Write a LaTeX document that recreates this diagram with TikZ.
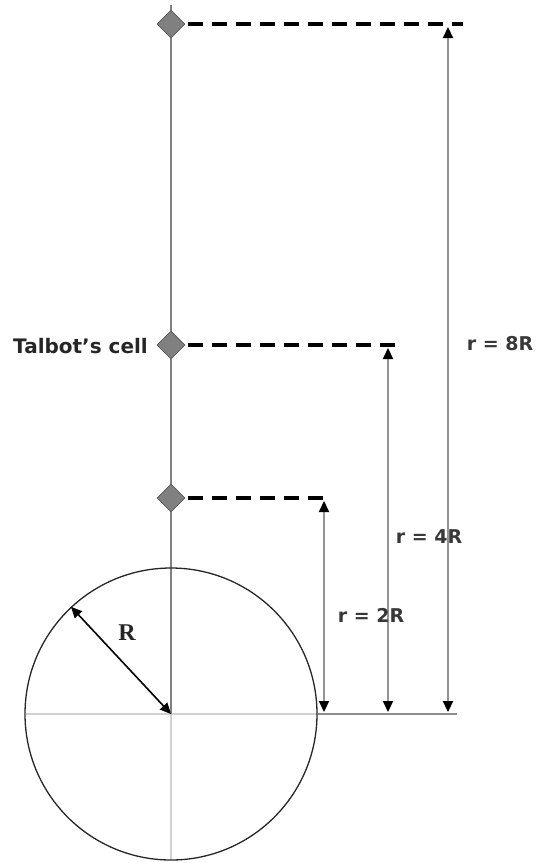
\documentclass[tikz,border=0pt]{standalone}
\usepackage{fontspec}
\setmainfont{DejaVu Sans}
\newfontfamily\serifR{Liberation Serif}
\usetikzlibrary{shapes.geometric,arrows.meta}
\begin{document}
\begin{tikzpicture}[x=1pt,y=-1pt,
  marker/.style={diamond, draw=black!65, fill=black!50, minimum width=28pt, minimum height=28pt, inner sep=0pt, line width=0.8pt},
  guide/.style={draw=black!50, line width=1.8pt},
  dashline/.style={draw=black, line width=3.5pt, dash pattern=on 15pt off 9pt},
  dimarrow/.style={draw=black!42, line width=2.2pt, {Triangle[length=11pt,width=10pt,black]}-{Triangle[length=11pt,width=10pt,black]}},
  lbl/.style={font=\fontsize{19}{23}\selectfont\bfseries, text=black!78, inner sep=0pt},
  faint/.style={draw=black!18, line width=1.2pt},
  base/.style={draw=black!45, line width=2pt}]
\useasboundingbox (0,0) rectangle (538,863);
% centre and guide
\coordinate (O) at (171,714);
\coordinate (top) at (171,5);
\coordinate (cb) at (171,860);
\coordinate (cl) at (26,714);
\coordinate (cr) at (317,714);
\draw[faint] (cl) -- (cr);
\draw[faint] (O) -- (cb);
\draw[guide] (top) -- (O);
\node[circle, draw=black!85, line width=1.3pt, minimum size=292pt, inner sep=0pt] (circ) at (O) {};
% markers
\node[marker] (d1) at (171,24) {};
\node[marker] (d2) at (171,345) {};
\node[marker] (d3) at (171,498) {};
% dashed levels
\coordinate (e1) at (463,24);
\coordinate (e2) at (398,345);
\coordinate (e3) at (328,498);
\draw[dashline] ([xshift=3pt]d1.east) -- (e1);
\draw[dashline] ([xshift=3pt]d2.east) -- (e2);
\draw[dashline] ([xshift=3pt]d3.east) -- (e3);
% base line
\coordinate (b1) at (318,714);
\coordinate (b2) at (457,714);
\draw[base] (b1) -- (b2);
% dimension arrows
\coordinate (a1t) at (448,27);  \coordinate (a1b) at (448,712);
\coordinate (a2t) at (388,348); \coordinate (a2b) at (388,712);
\coordinate (a3t) at (324,501); \coordinate (a3b) at (324,712);
\draw[dimarrow] (a1t) -- (a1b);
\draw[dimarrow] (a2t) -- (a2b);
\draw[dimarrow] (a3t) -- (a3b);
% radius arrow
\draw[black, line width=1.6pt, {Triangle[length=11pt,width=10pt]}-{Triangle[length=11pt,width=10pt]}] (circ.133) -- (O);
% labels
\node[lbl] (l8) at (500,344) {r = 8R};
\node[lbl] (l4) at (429,537) {r = 4R};
\node[lbl] (l2) at (371,615) {r = 2R};
\node[font=\fontsize{20}{24}\selectfont\bfseries, text=black!85, inner sep=0pt, anchor=east] (tc) at (148,346) {Talbot’s cell};
\node[font=\fontsize{24}{28}\selectfont\serifR\bfseries, text=black!85, inner sep=0pt] (rl) at (127,633) {R};
\end{tikzpicture}
\end{document}
